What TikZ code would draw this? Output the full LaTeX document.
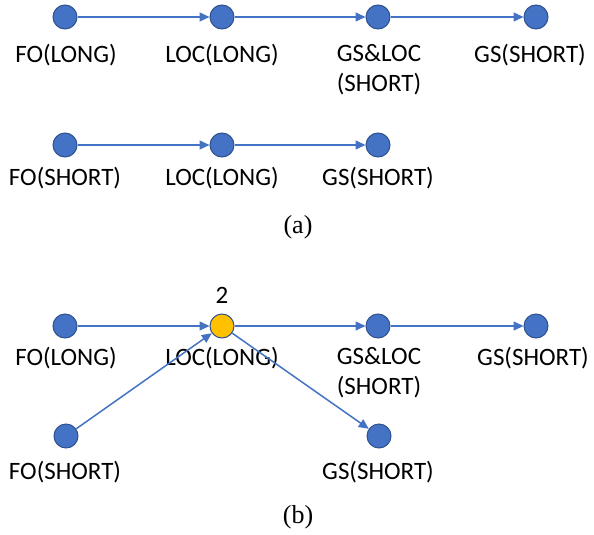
\documentclass[tikz,border=0pt]{standalone}
\usepackage{fontspec}
\setmainfont{Carlito}
\newfontfamily\capfont{Liberation Serif}
\usetikzlibrary{arrows.meta,positioning}
\definecolor{dotblue}{HTML}{4472C4}
\definecolor{dotedge}{HTML}{2F528F}
\definecolor{dotgold}{HTML}{FFC000}
\tikzset{
  dot/.style={circle, draw=dotedge, line width=1pt, fill=dotblue, minimum size=24pt, inner sep=0pt},
  hot/.style={dot, fill=dotgold},
  txt/.style={font=\fontsize{25}{30}\selectfont, align=center, inner sep=0pt},
  captxt/.style={font=\capfont\fontsize{26}{30}\selectfont, inner sep=0pt},
  link/.style={draw=dotblue, line width=1.5pt, -{Triangle[length=10pt,width=9pt]}}
}
\begin{document}
\begin{tikzpicture}[x=1pt, y=-1pt]
  \useasboundingbox (0,0) rectangle (594,535);
  % (a) first chain
  \node[dot] (a1) at (65,17) {};
  \node[dot] (a2) at (222,17) {};
  \node[dot] (a3) at (378,17) {};
  \node[dot] (a4) at (536,17) {};
  \node[txt] (ta1) at (66,55) {FO(LONG)};
  \node[txt] (ta2) at (222,55) {LOC(LONG)};
  \node[txt] (ta3) at (379,70) {GS\&LOC\\(SHORT)};
  \node[txt] (ta4) at (530,55) {GS(SHORT)};
  \draw[link] (a1) -- (a2);
  \draw[link] (a2) -- (a3);
  \draw[link] (a3) -- (a4);
  % (a) second chain
  \node[dot] (a5) at (65,145) {};
  \node[dot] (a6) at (222,145) {};
  \node[dot] (a7) at (378,145) {};
  \node[txt] (ta5) at (65,178) {FO(SHORT)};
  \node[txt] (ta6) at (222,178) {LOC(LONG)};
  \node[txt] (ta7) at (378,178) {GS(SHORT)};
  \draw[link] (a5) -- (a6);
  \draw[link] (a6) -- (a7);
  \node[captxt] (capa) at (298,227) {(a)};
  % (b) merged
  \node[dot] (b1) at (65,326) {};
  \node[hot] (b2) at (222,326) {};
  \node[dot] (b3) at (378,326) {};
  \node[dot] (b4) at (536,326) {};
  \node[dot] (b5) at (66,436) {};
  \node[dot] (b6) at (379,436) {};
  \node[txt] (cnt) at (222,295) {2};
  \node[txt] (tb1) at (66,358) {FO(LONG)};
  \node[txt] (tb2) at (222,358) {LOC(LONG)};
  \node[txt] (tb3) at (379,373) {GS\&LOC\\(SHORT)};
  \node[txt] (tb4) at (533,358) {GS(SHORT)};
  \node[txt] (tb5) at (65,472) {FO(SHORT)};
  \node[txt] (tb6) at (378,472) {GS(SHORT)};
  \draw[link] (b1) -- (b2);
  \draw[link] (b5) -- (b2);
  \draw[link] (b2) -- (b3);
  \draw[link] (b3) -- (b4);
  \draw[link] (b2) -- (b6);
  \node[captxt] (capb) at (298,517) {(b)};
\end{tikzpicture}
\end{document}
